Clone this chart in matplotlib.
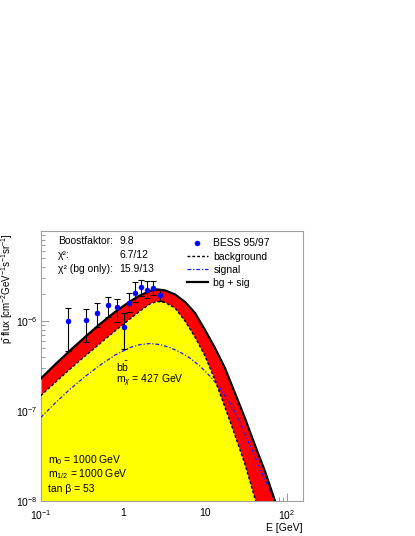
import numpy as np
import matplotlib
matplotlib.use('Agg')
import matplotlib.pyplot as plt
from matplotlib.ticker import LogLocator, NullFormatter, FixedLocator, FixedFormatter

plt.rcParams['font.family'] = ['Liberation Sans', 'DejaVu Sans']
plt.rcParams['mathtext.fontset'] = 'custom'
plt.rcParams['mathtext.rm'] = 'Liberation Sans'
plt.rcParams['mathtext.it'] = 'Liberation Sans:italic'
plt.rcParams['mathtext.bf'] = 'Liberation Sans:bold'

# BESS 95/97 antiproton data (energy, flux, error bar ends)
bess_E = [0.217, 0.354, 0.49, 0.667, 0.86, 1.03, 1.2, 1.41, 1.69, 2.0, 2.36, 2.82]
bess_flux = [1.0e-6, 1.02e-6, 1.24e-6, 1.5e-6, 1.42e-6, 0.85e-6,
             1.6e-6, 2.06e-6, 2.39e-6, 2.21e-6, 2.34e-6, 1.96e-6]
bess_hi = [1.41e-6, 1.35e-6, 1.58e-6, 1.83e-6, 1.77e-6, 1.24e-6,
           2.06e-6, 2.71e-6, 2.86e-6, 2.76e-6, 2.76e-6, 2.29e-6]
bess_lo = [0.46e-6, 0.58e-6, 0.85e-6, 1.12e-6, 0.98e-6, 0.49e-6,
           1.27e-6, 1.61e-6, 1.9e-6, 1.81e-6, 1.94e-6, 1.67e-6]

# background curve
bg_E = [0.1, 0.1494, 0.2277, 0.3469, 0.5287, 0.8054, 1.227, 1.626, 2.152, 2.620,
        3.281, 4.344, 5.752, 7.617, 10.09, 13.35, 17.68, 23.42, 31.01, 41.88]
bg_flux = [1.479e-7, 2.064e-7, 2.919e-7, 4.074e-7, 5.615e-7, 7.737e-7, 1.053e-6,
           1.292e-6, 1.547e-6, 1.649e-6, 1.607e-6, 1.395e-6, 1.0e-6, 6.632e-7,
           4.074e-7, 2.201e-7, 1.101e-7, 5.366e-8, 2.551e-8, 1.0e-8]

# signal curve
sig_E = [0.1, 0.1494, 0.2277, 0.3469, 0.5287, 0.8054, 1.227, 1.626, 2.152, 2.850, 3.774,
         4.998, 6.618, 8.764, 11.60, 15.37, 20.35, 26.95, 35.68, 47.25, 62.56, 68.65]
sig_flux = [8.453e-8, 1.220e-7, 1.747e-7, 2.408e-7, 3.233e-7, 4.180e-7, 5.066e-7,
            5.472e-7, 5.615e-7, 5.472e-7, 5.066e-7, 4.515e-7, 3.869e-7, 3.151e-7,
            2.439e-7, 1.792e-7, 1.220e-7, 7.491e-8, 4.153e-8, 2.302e-8, 1.276e-8, 1.086e-8]

# background + signal curve
tot_E = [0.1, 0.1494, 0.2277, 0.3469, 0.5287, 0.8054, 1.227, 1.626, 2.152, 2.620, 3.281,
         4.344, 5.752, 7.617, 10.09, 13.35, 17.68, 23.42, 31.01, 41.06, 54.38, 71.99]
tot_flux = [2.287e-7, 3.275e-7, 4.691e-7, 6.632e-7, 9.26e-7, 1.260e-6, 1.649e-6,
            1.923e-6, 2.159e-6, 2.244e-6, 2.186e-6, 1.973e-6, 1.628e-6, 1.228e-6,
            7.937e-7, 5.003e-7, 2.995e-7, 1.577e-7, 8.30e-8, 4.153e-8, 2.131e-8, 1.0e-8]

x_ticks = [0.1, 1, 10, 100]
x_ticklabels = ['$10^{-1}$', '1', '10', '$10^{2}$']
y_ticks = [1e-8, 1e-7, 1e-6]
y_ticklabels = ['$10^{-8}$', '$10^{-7}$', '$10^{-6}$']

W, H = 415, 536


def px(x, y):
    # pixel position (from top-left) -> figure fraction
    return x / W, 1 - y / H


fig = plt.figure(figsize=(W / 100, H / 100), dpi=100)
ax = fig.add_axes([40.7 / W, 35 / H, (303 - 40.7) / W, (501 - 231) / H])
ax.set_xscale('log')
ax.set_yscale('log')
ax.set_xlim(0.1, 158)
ax.set_ylim(1e-8, 1e-5)

# filled bands
ax.fill_between(bg_E, bg_flux, 1e-8, color='#ffff00', lw=0, zorder=1)
band_x = list(tot_E) + list(bg_E[::-1])
band_y = list(tot_flux) + list(bg_flux[::-1])
ax.fill(band_x, band_y, color='#ff0000', lw=0, zorder=1)

l_bg, = ax.plot(bg_E, bg_flux, color='black', ls=(0, (2, 1.5)), lw=1.0, zorder=3)
l_sig, = ax.plot(sig_E, sig_flux, color='#1a1aff', ls=(0, (3, 1.5, 1, 1.5)), lw=0.9, zorder=3)
l_tot, = ax.plot(tot_E, tot_flux, color='black', lw=1.6, zorder=3)

bess_E = np.array(bess_E)
bess_flux = np.array(bess_flux)
yerr = [bess_flux - np.array(bess_lo), np.array(bess_hi) - bess_flux]
ax.errorbar(bess_E, bess_flux, yerr=yerr, fmt='none', ecolor='black', elinewidth=0.8,
            capsize=2.2, capthick=0.8, zorder=4)
l_pts, = ax.plot(bess_E, bess_flux, 'o', color='#0000ff', ms=3.6, mew=0.4, mec='#0000ff', zorder=5)

# axes styling (ROOT look)
ax.set_axisbelow(True)
for s in ax.spines.values():
    s.set_color('#a0a0a0')
    s.set_linewidth(0.8)
ax.xaxis.set_major_locator(FixedLocator(x_ticks))
ax.xaxis.set_major_formatter(FixedFormatter(x_ticklabels))
ax.yaxis.set_major_locator(FixedLocator(y_ticks))
ax.yaxis.set_major_formatter(FixedFormatter(y_ticklabels))
ax.xaxis.set_minor_locator(LogLocator(base=10, subs=np.arange(2, 10)))
ax.yaxis.set_minor_locator(LogLocator(base=10, subs=np.arange(2, 10)))
ax.xaxis.set_minor_formatter(NullFormatter())
ax.yaxis.set_minor_formatter(NullFormatter())
ax.tick_params(which='both', direction='in', top=False, right=False, color='#888888',
               labelsize=7.5, width=0.6)
ax.tick_params(which='major', length=6)
ax.tick_params(which='minor', length=3)
ax.tick_params(axis='x', pad=5)
ax.tick_params(axis='y', pad=2.5)

fs = 7.5
# fit results
fig.text(*px(57.7, 241), 'Boostfaktor:', fontsize=fs, va='center')
fig.text(*px(119, 241), '9.8', fontsize=fs, va='center')
fig.text(*px(57.7, 255.5), 'χ²:', fontsize=fs, va='center')
fig.text(*px(119, 255.5), '6.7/12', fontsize=fs, va='center')
fig.text(*px(57.7, 269.5), 'χ² (bg only):', fontsize=fs, va='center')
fig.text(*px(119, 269.5), '15.9/13', fontsize=fs, va='center')

fig.text(*px(116, 366.5), 'b$\\bar{\\mathrm{b}}$', fontsize=fs, va='center')
fig.text(*px(116, 381), 'm$_{χ}$ = 427 GeV', fontsize=fs, va='center')

fig.text(*px(48, 460.5), 'm$_{0}$ = 1000 GeV', fontsize=fs, va='center')
fig.text(*px(48, 474.5), 'm$_{1/2}$ = 1000 GeV', fontsize=fs, va='center')
fig.text(*px(48, 488.5), 'tan β = 53', fontsize=fs, va='center')

ax.legend([l_pts, l_bg, l_sig, l_tot], ['BESS 95/97', 'background', 'signal', 'bg + sig'],
          loc='upper left', bbox_to_anchor=px(186.7, 238.5), bbox_transform=fig.transFigure,
          frameon=False, fontsize=fs, borderpad=0, borderaxespad=0, handlelength=2.0,
          handletextpad=0.55, labelspacing=0.3, numpoints=1)

fig.text(*px(7, 233), 'p̄ flux [cm$^{-2}$GeV$^{-1}$s$^{-1}$sr$^{-1}$]', fontsize=7,
         rotation=90, ha='center', va='top')
fig.text(*px(303, 528), 'E [GeV]', fontsize=fs, ha='right', va='center')

fig.savefig('out.png', dpi=100)
